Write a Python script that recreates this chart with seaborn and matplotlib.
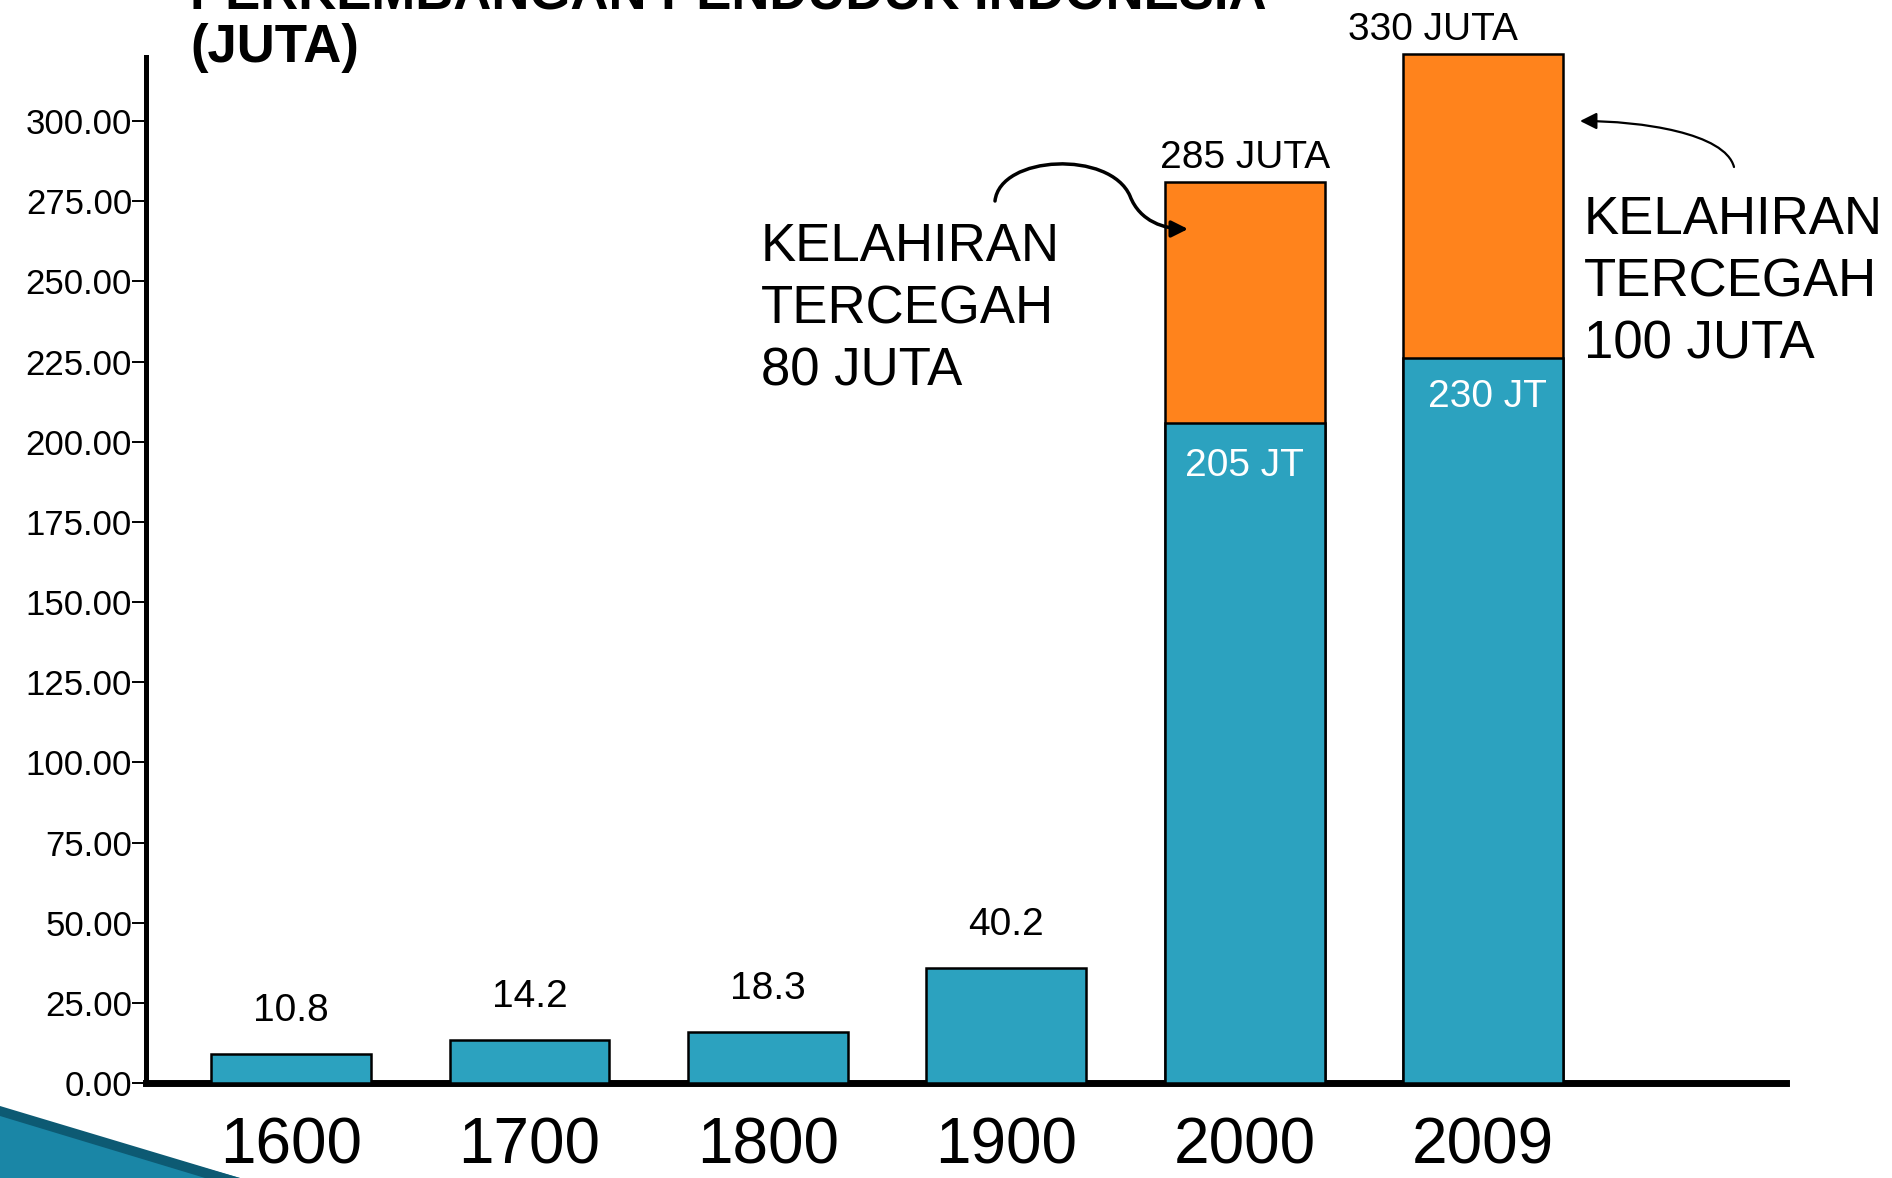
import matplotlib
matplotlib.use("Agg")
import matplotlib.pyplot as plt
from matplotlib.patches import Polygon, FancyArrowPatch
from matplotlib.path import Path
import pandas as pd
import seaborn as sns

# data (bar heights as drawn on the slide, labels as written)
tahun = ["1600", "1700", "1800", "1900", "2000", "2009"]
penduduk = [9.0, 13.5, 16.0, 36.0, 206.0, 226.0]
label_penduduk = ["10.8", "14.2", "18.3", "40.2"]
tahun_kb = ["2000", "2009"]
tanpa_kb = [281.0, 321.0]
label_total = ["285 JUTA", "330 JUTA"]
label_jt = ["205 JT", "230 JT"]
teks_tercegah = ["KELAHIRAN\nTERCEGAH\n80 JUTA", "KELAHIRAN\nTERCEGAH\n100 JUTA"]
yticks = list(range(0, 301, 25))

BIRU = "#2ca2bf"
ORANYE = "#ff831c"
W, H = 1892, 1178

sns.set_style("white")
plt.rcParams["font.family"] = ["Liberation Sans", "DejaVu Sans"]
plt.rcParams["text.color"] = "black"
plt.rcParams["xtick.color"] = "black"
plt.rcParams["ytick.color"] = "black"

fig = plt.figure(figsize=(W / 100, H / 100), dpi=100)
ax = fig.add_axes([146 / W, 1 - 1083 / H, (1786 - 146) / W, (1083 - 57) / H])

df_total = pd.DataFrame({"tahun": tahun_kb, "nilai": tanpa_kb})
df_pdd = pd.DataFrame({"tahun": tahun, "nilai": penduduk})

sns.barplot(data=df_total, x="tahun", y="nilai", order=tahun, color=ORANYE,
            saturation=1, width=0.67, edgecolor="black", linewidth=1.8,
            errorbar=None, ax=ax)
sns.barplot(data=df_pdd, x="tahun", y="nilai", order=tahun, color=BIRU,
            saturation=1, width=0.67, edgecolor="black", linewidth=1.8,
            errorbar=None, ax=ax)
for p in ax.patches:
    p.set_clip_on(False)

ax.set_xlim(-0.608, 6.27)
ax.set_ylim(0, 320)
ax.set_xlabel("")
ax.set_ylabel("")
ax.set_yticks(yticks)
ax.set_yticklabels([f"{v:.2f}" for v in yticks])
ax.tick_params(axis="y", length=10, width=1.4, pad=0, labelsize=25, left=True,
               colors="black")
ax.tick_params(axis="x", length=0, pad=24, labelsize=46, colors="black")

sns.despine(ax=ax)
ax.spines["left"].set_linewidth(3.6)
ax.spines["bottom"].set_linewidth(5)
ax.spines["left"].set_color("black")
ax.spines["bottom"].set_color("black")
ax.spines["bottom"].set_zorder(0.5)
ax.spines["left"].set_zorder(0.5)

# labels above small bars
for i, lab in enumerate(label_penduduk):
    ax.annotate(lab, xy=(i, penduduk[i]), xytext=(0, 18), textcoords="offset points",
                ha="center", va="bottom", fontsize=28)

# totals and inner labels for projected bars
geser_total = [(0, 4), (-36, 4)]
geser_jt = [(0, -18), (3, -15)]
for j, th in enumerate(tahun_kb):
    i = tahun.index(th)
    ax.annotate(label_total[j], xy=(i, tanpa_kb[j]), xytext=geser_total[j],
                textcoords="offset points", ha="center", va="bottom", fontsize=28,
                annotation_clip=False)
    ax.annotate(label_jt[j], xy=(i, penduduk[i]), xytext=geser_jt[j],
                textcoords="offset points", ha="center", va="top", fontsize=28,
                color="white", annotation_clip=False)

# "kelahiran tercegah" notes
fig.text(761 / W, 1 - 222 / H, teks_tercegah[0], ha="left", va="top",
         fontsize=38, linespacing=1.32)
fig.text(1584 / W, 1 - 195 / H, teks_tercegah[1], ha="left", va="top",
         fontsize=38, linespacing=1.32)


def fpt(x, y):
    return (x / W, 1 - y / H)


jalur1 = Path([fpt(995, 201), fpt(1000, 155), fpt(1110, 150), fpt(1130, 196),
               fpt(1140, 222), fpt(1165, 229), fpt(1188, 229)],
              [Path.MOVETO, Path.CURVE4, Path.CURVE4, Path.CURVE4,
               Path.CURVE4, Path.CURVE4, Path.CURVE4])
fig.add_artist(FancyArrowPatch(path=jalur1, transform=fig.transFigure,
                               arrowstyle="-|>,head_length=10,head_width=5",
                               color="black", lw=2.5))
jalur2 = Path([fpt(1734, 167), fpt(1725, 133), fpt(1641, 121), fpt(1580, 121)],
              [Path.MOVETO, Path.CURVE4, Path.CURVE4, Path.CURVE4])
fig.add_artist(FancyArrowPatch(path=jalur2, transform=fig.transFigure,
                               arrowstyle="-|>,head_length=10,head_width=5",
                               color="black", lw=1.6))

# title (partly cut by the top edge, as on the slide)
fig.text(190 / W, 1 - 10 / H, "PERKEMBANGAN PENDUDUK INDONESIA", ha="left",
         va="baseline", fontsize=38, fontweight="bold")
fig.text(190 / W, 1 - 62 / H, "(JUTA)", ha="left", va="baseline",
         fontsize=38, fontweight="bold")

# slide decoration at bottom left
fig.add_artist(Polygon([fpt(0, 1110), fpt(240, 1178), fpt(0, 1178)], closed=True,
                       transform=fig.transFigure, facecolor="#1a86a6", edgecolor="none"))
fig.add_artist(Polygon([fpt(0, 1106), fpt(240, 1178), fpt(205, 1178), fpt(0, 1116)],
                       closed=True, transform=fig.transFigure,
                       facecolor="#0d5a73", edgecolor="none"))

fig.savefig("out.png", dpi=100)
